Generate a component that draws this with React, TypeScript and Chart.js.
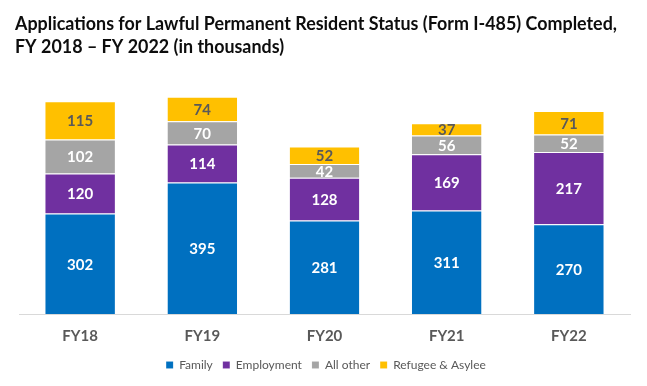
import React, { useEffect, useRef } from "react";
import { Chart, registerables } from "chart.js";

Chart.register(...registerables);

const titleLines = [
  "Applications for Lawful Permanent Resident Status (Form I-485) Completed,",
  "FY 2018 \u2013 FY 2022 (in thousands)",
];
const categories = ["FY18", "FY19", "FY20", "FY21", "FY22"];
const family = [302, 395, 281, 311, 270];
const employment = [120, 114, 128, 169, 217];
const allOther = [102, 70, 42, 56, 52];
const refugee = [115, 74, 52, 37, 71];
const seriesNames = ["Family", "Employment", "All other", "Refugee & Asylee"];
const seriesColors = ["#0070C0", "#7030A0", "#A5A5A5", "#FFC000"];
const labelColors = ["#FFFFFF", "#FFFFFF", "#FFFFFF", "#595959"];

const FONT = "Lato, 'Noto Sans', sans-serif";

const titleDraw = {
  id: "titleDraw",
  afterDraw(chart: any) {
    const ctx = chart.ctx;
    ctx.save();
    ctx.font = `bold 18px ${FONT}`;
    ctx.fillStyle = "#0D0D0D";
    ctx.textAlign = "left";
    ctx.textBaseline = "alphabetic";
    const w = ctx.measureText(titleLines[0]).width;
    const sx = 602 / w;
    ctx.translate(15, 0);
    ctx.scale(sx, 1);
    titleLines.forEach((t, i) => ctx.fillText(t, 0, 29.5 + i * 23.5));
    ctx.restore();
  },
};

const segmentLabels = {
  id: "segmentLabels",
  afterDatasetsDraw(chart: any) {
    const ctx = chart.ctx;
    ctx.save();
    ctx.font = `bold 15px ${FONT}`;
    ctx.textAlign = "center";
    ctx.textBaseline = "middle";
    chart.data.datasets.forEach((ds: any, di: number) => {
      const meta = chart.getDatasetMeta(di);
      meta.data.forEach((el: any, i: number) => {
        const { x, y, base } = el.getProps(["x", "y", "base"], true);
        ctx.fillStyle = labelColors[di];
        ctx.fillText(String(ds.data[i]), x, (y + base) / 2 + 1);
      });
    });
    ctx.restore();
  },
};

const legendShift = {
  id: "legendShift",
  afterLayout(chart: any) {
    if (chart.legend) {
      chart.legend.left += 5;
      chart.legend.right += 5;
    }
  },
};

export default function App() {
  const ref = useRef<HTMLCanvasElement | null>(null);
  useEffect(() => {
    if (!ref.current) return;
    const data = [family, employment, allOther, refugee];
    const chart = new Chart(ref.current, {
      type: "bar",
      data: {
        labels: categories,
        datasets: data.map((d, i) => ({
          label: seriesNames[i],
          data: d,
          backgroundColor: seriesColors[i],
          borderColor: "rgba(255,255,255,0.35)",
          borderWidth: { top: 1, left: 0, right: 0, bottom: 0 },
          borderSkipped: false,
          barPercentage: 0.57,
          categoryPercentage: 1,
        })),
      },
      options: {
        animation: false,
        responsive: true,
        maintainAspectRatio: false,
        layout: { padding: { left: 12, right: 17, top: 81, bottom: 5 } },
        scales: {
          x: {
            stacked: true,
            grid: { display: false, drawTicks: false },
            border: { display: true, color: "#D9D9D9", width: 1 },
            ticks: {
              padding: 13,
              color: "#595959",
              font: { family: FONT, size: 15, weight: "bold" },
            },
            afterFit(scale: any) {
              scale.height = 35;
            },
          },
          y: {
            stacked: true,
            min: 0,
            max: 700,
            display: true,
            grid: { display: false, drawTicks: false },
            border: { display: false },
            ticks: { display: false },
            afterFit(scale: any) {
              scale.width = 7;
            },
          },
        },
        plugins: {
          title: { display: false },
          legend: {
            display: true,
            position: "bottom",
            labels: {
              boxWidth: 7,
              boxHeight: 7,
              padding: 10,
              color: "#595959",
              font: { family: FONT, size: 12 },
            },
          },
          tooltip: { enabled: false },
        },
      },
      plugins: [segmentLabels, legendShift, titleDraw],
    });
    return () => chart.destroy();
  }, []);
  return (
    <div style={{ position: "fixed", left: 0, top: 0, width: 647, height: 386, background: "#fff" }}>
      <canvas ref={ref} />
    </div>
  );
}
